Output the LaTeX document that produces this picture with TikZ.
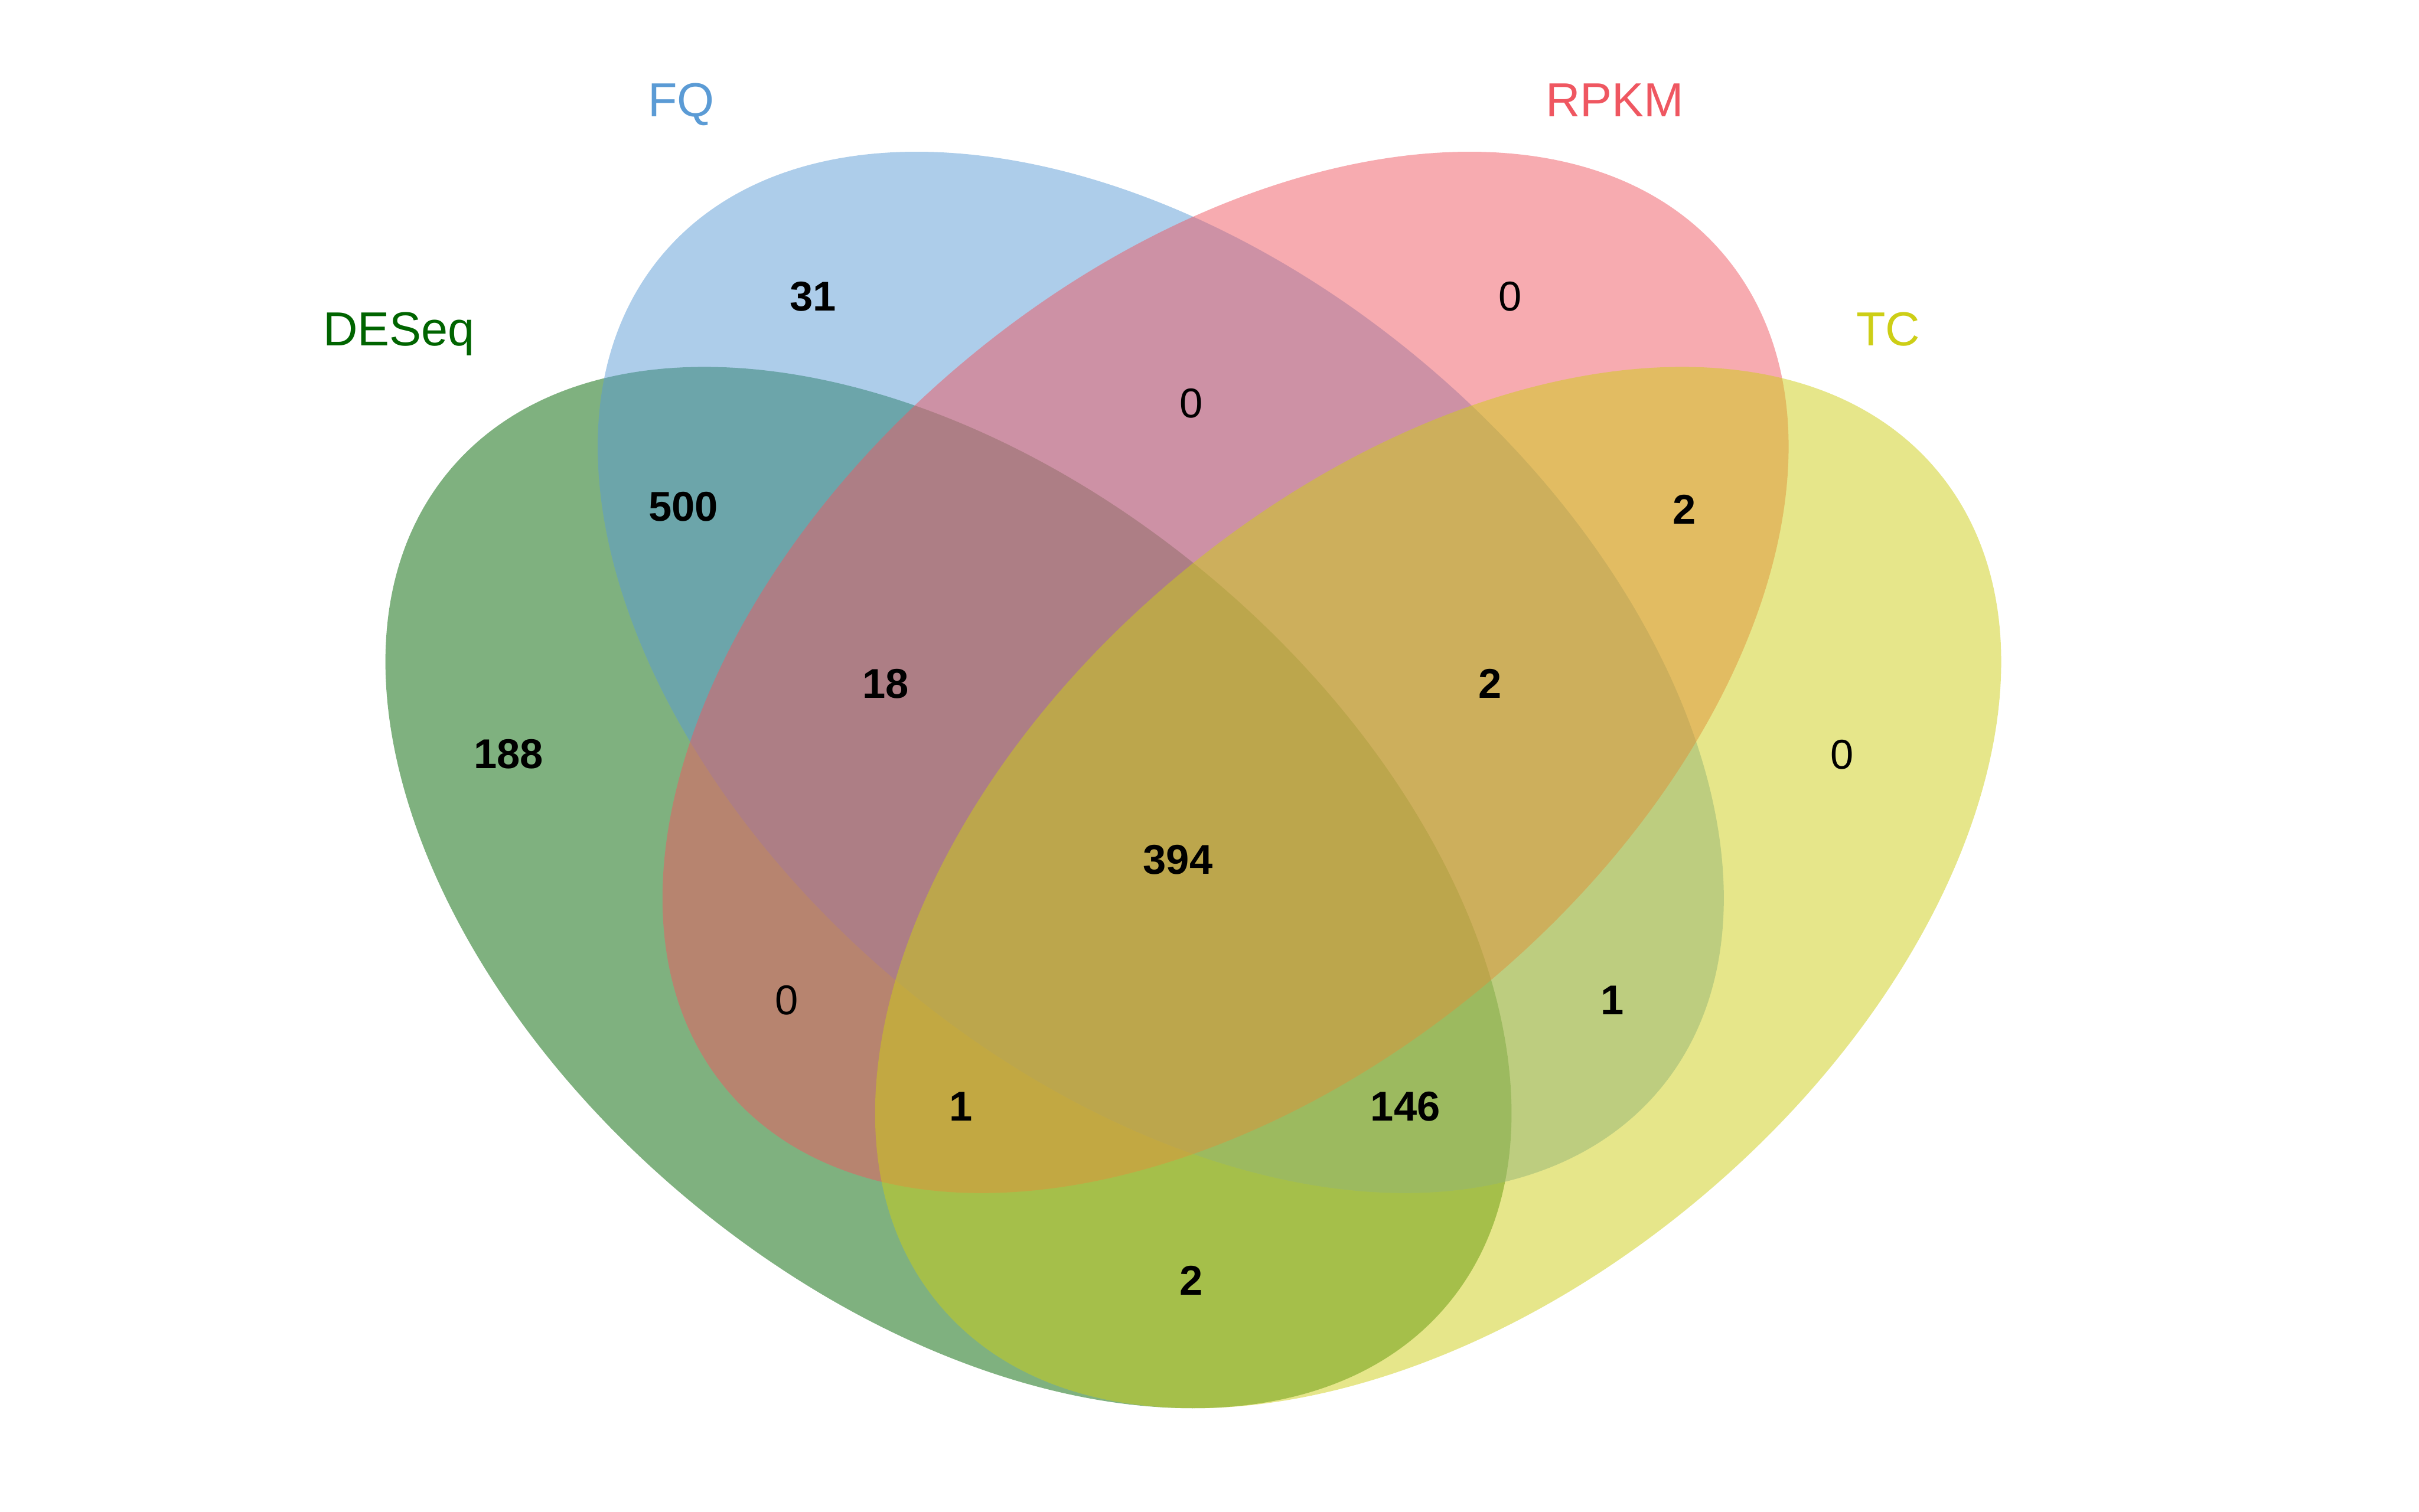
\documentclass[tikz,border=0pt]{standalone}
\usepackage{fontspec}
\setmainfont{Liberation Sans}
\definecolor{cDE}{RGB}{0,100,0}
\definecolor{cFQ}{RGB}{91,155,213}
\definecolor{cRP}{RGB}{239,87,97}
\definecolor{cTC}{RGB}{205,206,22}
\tikzset{
  setfill/.style={fill=#1, fill opacity=0.5, draw=none},
  setlabel/.style={anchor=base, inner sep=0pt, text=#1, font=\fontsize{31}{34}\selectfont},
  countbold/.style={anchor=base, inner sep=0pt, font=\fontsize{27}{30}\selectfont\bfseries},
  countplain/.style={anchor=base, inner sep=0pt, font=\fontsize{27}{30}\selectfont}
}
\begin{document}
\begin{tikzpicture}[x=1pt,y=1pt]
\useasboundingbox (0,0) rectangle (1568,980);
% ellipses (y measured upward: Y = 980 - y)
\fill[setfill=cDE, rotate around={-39.9:(614.8,404.5)}] (614.8,404.5) ellipse [x radius=421.6pt, y radius=263.4pt];
\fill[setfill=cFQ, rotate around={-39.9:(752.4,544)}] (752.4,544) ellipse [x radius=421.6pt, y radius=263.4pt];
\fill[setfill=cRP, rotate around={39.9:(794.4,544)}] (794.4,544) ellipse [x radius=421.6pt, y radius=263.4pt];
\fill[setfill=cTC, rotate around={39.9:(932.2,404.5)}] (932.2,404.5) ellipse [x radius=421.6pt, y radius=263.4pt];
% set labels
\node[setlabel=cDE] (lDE) at (258.6,756) {DESeq};
\node[setlabel=cFQ] (lFQ) at (441.6,904.4) {FQ};
\node[setlabel=cRP] (lRP) at (1046.7,904.4) {RPKM};
\node[setlabel=cTC] (lTC) at (1224,756) {TC};
% counts (baseline = 980 - (center + 9.7))
\node[countbold]  (n31)  at (527,778.5) {31};
\node[countplain] (n0a)  at (978.9,778.5) {0};
\node[countplain] (n0b)  at (772,709.3) {0};
\node[countbold]  (n500) at (443,642.3) {500};
\node[countbold]  (n2a)  at (1092,640.3) {2};
\node[countbold]  (n18)  at (574,527.3) {18};
\node[countbold]  (n2b)  at (966,527.3) {2};
\node[countbold]  (n188) at (329.6,481.9) {188};
\node[countplain] (n0c)  at (1194,481.3) {0};
\node[countbold]  (n394) at (763.5,413.2) {394};
\node[countplain] (n0d)  at (510,322.3) {0};
\node[countbold]  (n1a)  at (1045,322.3) {1};
\node[countbold]  (n1b)  at (623,253.3) {1};
\node[countbold]  (n146) at (911,253.3) {146};
\node[countbold]  (n2c)  at (772,140.3) {2};
\end{tikzpicture}
\end{document}
